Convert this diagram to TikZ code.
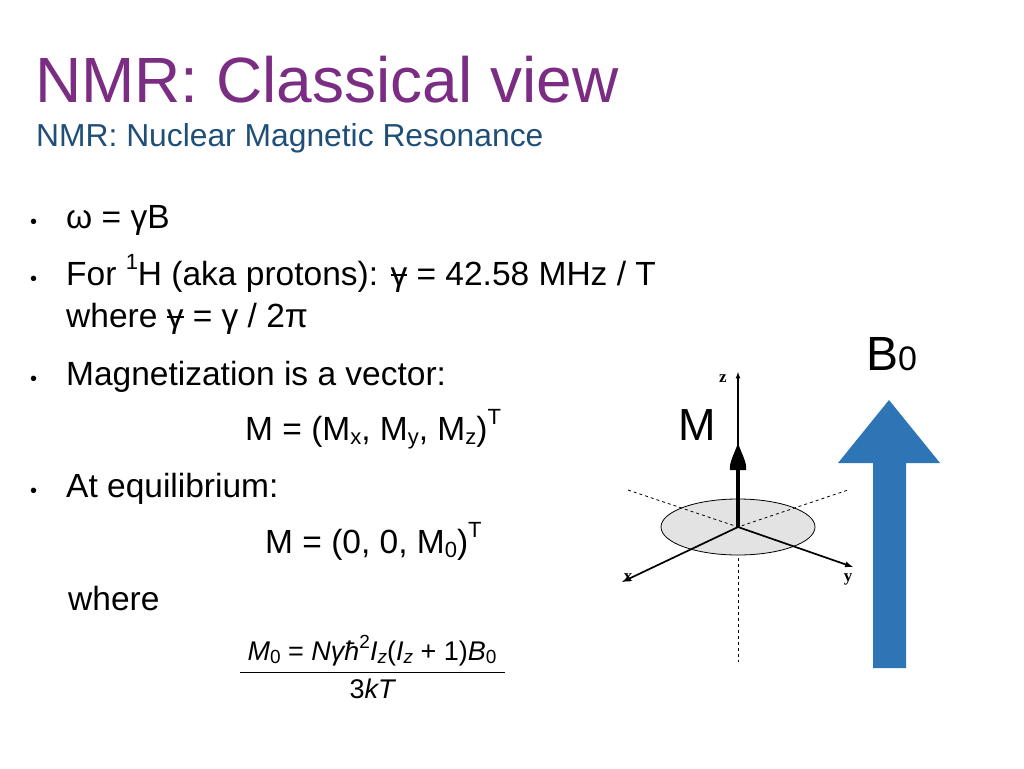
\documentclass[tikz,border=0pt]{standalone}
\usepackage{fontspec}
\setmainfont{Liberation Sans}
\newfontfamily\serifax{Liberation Serif}
\definecolor{ttl}{HTML}{7B2C83}
\definecolor{sub}{HTML}{1F4E79}
\definecolor{bblue}{HTML}{2E75B6}
\newcommand{\bgam}{\rlap{\rule[0.28em]{0.5em}{0.06em}}γ}
\newcommand{\lsub}[1]{\raisebox{-0.12em}{\fontsize{22}{24}\selectfont #1}}
\newcommand{\lsup}[1]{\raisebox{0.45em}{\fontsize{22}{24}\selectfont #1}}
\newcommand{\fsub}[1]{{\fontsize{19}{20}\selectfont\raisebox{-0.2em}{#1}}}
\begin{document}
\begin{tikzpicture}[x=1pt,y=-1pt,
  txt/.style={anchor=base west,inner sep=0,font=\fontsize{33.5}{38}\selectfont},
  bul/.style={anchor=base west,inner sep=0,font=\fontsize{20}{22}\selectfont},
  frm/.style={inner sep=0,font=\itshape\fontsize{27}{30}\selectfont},
  axl/.style={font=\serifax\bfseries\fontsize{17}{18}\selectfont,inner sep=0}]
\useasboundingbox (0,0) rectangle (1024,768);
\node[anchor=base west,inner sep=0,text=ttl,font=\fontsize{64}{70}\selectfont] (title) at (35,102) {NMR: Classical view};
\node[anchor=base west,inner sep=0,text=sub,font=\fontsize{31.8}{36}\selectfont] (subt) at (36,146) {NMR: Nuclear Magnetic Resonance};
\node[bul] (b1) at (30,228) {•};
\node[txt] (t1) at (66,228) {ω = γB};
\node[bul] (b2) at (30,285) {•};
\node[txt] (t2) at (66,285) {For \lsup{1}H (aka protons): \bgam{} = 42.58 MHz / T};
\node[txt] (t2b) at (66,327) {where \bgam{} = γ / 2π};
\node[bul] (b3) at (30,385) {•};
\node[txt] (t3) at (66,385) {Magnetization is a vector:};
\node[txt] (t3b) at (245,440) {M = (M\lsub{x}, M\lsub{y}, M\lsub{z})\lsup{T}};
\node[bul] (b4) at (30,497) {•};
\node[txt] (t4) at (66,497) {At equilibrium:};
\node[txt] (t4b) at (265,553) {M = (0, 0, M\lsub{0})\lsup{T}};
\node[txt] (t5) at (68,610) {where};
\node[frm,anchor=base] (num) at (372,660) {M{\upshape\fsub{0}} {\upshape =} Nγħ{\upshape\fontsize{19}{20}\selectfont\raisebox{0.6em}{2}}I\fsub{z}{\upshape(}I\fsub{z} {\upshape+ 1)}B{\upshape\fsub{0}}};
\node[frm,anchor=base] (den) at (372,698) {{\upshape 3}kT};
\draw[line width=0.8pt] (240,672) -- (505,672);
% axes
\coordinate (o) at (738,527);
\fill[gray!22] (o) ellipse [x radius=77,y radius=28];
\draw[line width=0.8pt] (o) ellipse [x radius=77,y radius=28];
\draw[dashed,line width=0.8pt] (628,490) -- (o) -- (848,490);
\draw[dashed,line width=0.8pt] (738,558) -- (738,662);
\draw[line width=1.7pt,-latex] (o) -- (622,582);
\draw[line width=1.7pt,-latex] (o) -- (853,567);
\draw[line width=1.2pt,-latex] (o) -- (738,372);
\draw[line width=3.5pt] (o) -- (738,470);
\fill (738,443) .. controls (742,455) and (747,462) .. (746,470) -- (730,470) .. controls (729,462) and (734,455) .. (738,443);
\node[axl] (zl) at (723,379) {z};
\node[axl] (xl) at (628,578) {x};
\node[axl] (yl) at (848,579) {y};
\node[anchor=base,inner sep=0,font=\fontsize{45}{50}\selectfont] (ml) at (697,440) {M};
\node[anchor=base west,inner sep=0,font=\fontsize{48}{52}\selectfont] (bl) at (866,370) {B{\fontsize{34}{36}\selectfont 0}};
\fill[bblue] (873,668) -- (873,463) -- (838,463) -- (889,400) -- (940,463) -- (906,463) -- (906,668) -- cycle;
\end{tikzpicture}
\end{document}
